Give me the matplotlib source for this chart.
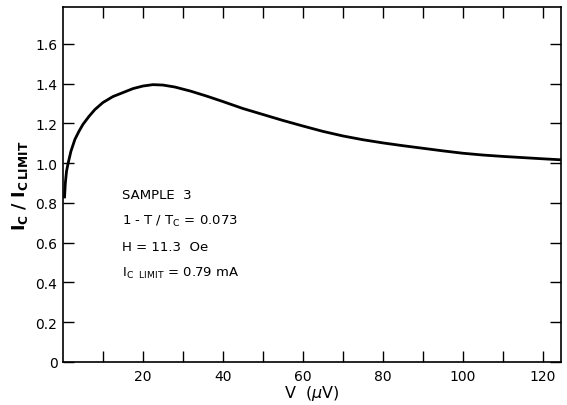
import matplotlib
matplotlib.use("Agg")
import matplotlib.pyplot as plt
import numpy as np

# values
volts = [0.4, 0.6, 0.9, 1.3, 2, 3, 4, 5, 6.5, 8, 10, 12.5, 15, 17.5, 20, 22.5,
         25, 28, 32, 36, 40, 45, 50, 55, 60, 65, 70, 75, 80, 85, 90, 95, 100,
         105, 110, 115, 120, 124.5]
ic_ratio = [0.83, 0.90, 0.96, 1.00, 1.06, 1.12, 1.16, 1.195, 1.235, 1.27, 1.305,
            1.335, 1.355, 1.375, 1.388, 1.395, 1.393, 1.383, 1.362, 1.337, 1.31,
            1.275, 1.245, 1.215, 1.187, 1.16, 1.137, 1.118, 1.102, 1.088, 1.075,
            1.062, 1.05, 1.041, 1.034, 1.028, 1.022, 1.017]

xticks = [20, 40, 60, 80, 100, 120]
yticks = [0, 0.2, 0.4, 0.6, 0.8, 1.0, 1.2, 1.4, 1.6]
ytick_labels = ["0", "0.2", "0.4", "0.6", "0.8", "1.0", "1.2", "1.4", "1.6"]

notes = ["SAMPLE  3",
         r"1 - T / T$_\mathrm{C}$ = 0.073",
         "H = 11.3  Oe",
         r"I$_\mathrm{C\ \ LIMIT}$ = 0.79 mA"]

fig = plt.figure(figsize=(5.67, 4.06), dpi=100)
ax = fig.add_axes([0.111, 0.106, 0.878, 0.874])

ax.plot(volts, ic_ratio, color="black", lw=2)

ax.set_xlim(0, 124.5)
ax.set_ylim(0, 1.785)
ax.set_xticks(xticks)
ax.set_xticks(np.arange(10, 125, 10), minor=True)
ax.set_yticks(yticks)
ax.set_yticklabels(ytick_labels)

ax.tick_params(which="both", direction="in", length=8, width=1,
               top=True, right=True, labelsize=10, pad=5)
ax.tick_params(axis="y", pad=4)
for s in ax.spines.values():
    s.set_linewidth(1.2)

ax.set_xlabel(r"V  ($\mu$V)", fontsize=11.5, labelpad=0)
ax.set_ylabel(r"$\mathbf{I_C\ /\ I_{C\,LIMIT}}$", fontsize=12.5, labelpad=4)

for i, t in enumerate(notes):
    ax.text(14.75, 0.84 - i * 0.13, t, fontsize=9.5, va="center", ha="left")

fig.savefig("out.png", dpi=100)
